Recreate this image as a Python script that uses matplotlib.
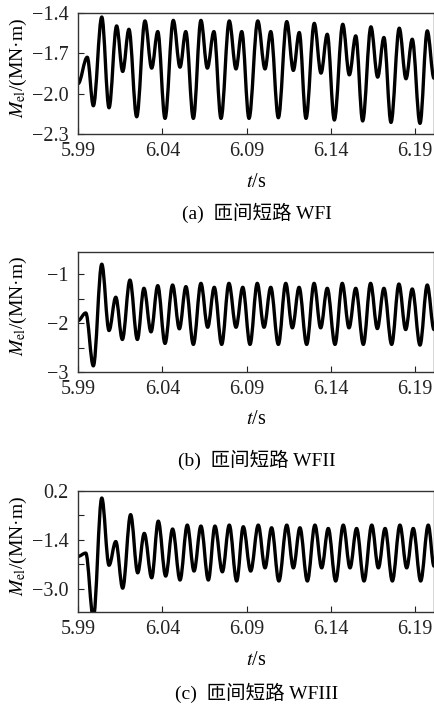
import numpy as np
import matplotlib
matplotlib.use('Agg')
import matplotlib.pyplot as plt
from matplotlib.path import Path
from matplotlib.patches import PathPatch

plt.rcParams['font.family'] = ['Liberation Serif', 'Noto Sans CJK SC']
plt.rcParams['mathtext.fontset'] = 'stix'

# === data: turning points of M_el (t in s, value in MN*m) ===
t_a = [5.9900, 5.9955, 5.9991, 6.0041, 6.0084, 6.0129, 6.0165, 6.0202, 6.0248, 6.0297,
       6.0337, 6.0373, 6.0416, 6.0465, 6.0505, 6.0539, 6.0584, 6.0629, 6.0667, 6.0706,
       6.0748, 6.0797, 6.0837, 6.0871, 6.0914, 6.0966, 6.1009, 6.1043, 6.1088, 6.1138,
       6.1177, 6.1212, 6.1252, 6.1301, 6.1341, 6.1378, 6.1420, 6.1470, 6.1509, 6.1547,
       6.1588, 6.1637, 6.1677, 6.1714, 6.1756, 6.1805, 6.1845, 6.1882, 6.1928, 6.1971,
       6.2011]
m_a = [-1.926, -1.729, -2.090, -1.430, -2.105, -1.496, -1.835, -1.521, -2.172, -1.459,
       -1.810, -1.538, -2.184, -1.455, -1.803, -1.538, -2.184, -1.455, -1.810, -1.538,
       -2.184, -1.459, -1.816, -1.538, -2.184, -1.459, -1.816, -1.538, -2.179, -1.464,
       -1.827, -1.545, -2.184, -1.477, -1.847, -1.558, -2.196, -1.484, -1.860, -1.570,
       -2.203, -1.503, -1.877, -1.582, -2.214, -1.513, -1.889, -1.595, -2.221, -1.533,
       -1.885]

t_b = [5.9900, 5.9946, 5.9991, 6.0041, 6.0084, 6.0124, 6.0163, 6.0208, 6.0252, 6.0291,
       6.0333, 6.0373, 6.0416, 6.0461, 6.0501, 6.0540, 6.0584, 6.0629, 6.0669, 6.0708,
       6.0752, 6.0795, 6.0837, 6.0877, 6.0920, 6.0963, 6.1003, 6.1043, 6.1088, 6.1132,
       6.1171, 6.1211, 6.1256, 6.1300, 6.1339, 6.1378, 6.1424, 6.1467, 6.1507, 6.1547,
       6.1592, 6.1635, 6.1675, 6.1714, 6.1760, 6.1803, 6.1843, 6.1882, 6.1928, 6.1971,
       6.2011]
m_b = [-1.947, -1.790, -2.874, -0.790, -2.150, -1.467, -2.333, -1.116, -2.333, -1.284,
       -2.177, -1.230, -2.414, -1.217, -2.115, -1.250, -2.434, -1.183, -2.083, -1.264,
       -2.434, -1.183, -2.083, -1.264, -2.434, -1.183, -2.083, -1.264, -2.434, -1.183,
       -2.095, -1.264, -2.434, -1.183, -2.095, -1.284, -2.434, -1.183, -2.095, -1.284,
       -2.434, -1.183, -2.110, -1.284, -2.434, -1.197, -2.130, -1.298, -2.448, -1.217,
       -2.130]

t_c = [5.9900, 5.9946, 5.9991, 6.0041, 6.0084, 6.0124, 6.0165, 6.0212, 6.0254, 6.0293,
       6.0337, 6.0376, 6.0420, 6.0461, 6.0505, 6.0548, 6.0588, 6.0629, 6.0673, 6.0712,
       6.0756, 6.0797, 6.0841, 6.0880, 6.0924, 6.0969, 6.1009, 6.1048, 6.1091, 6.1138,
       6.1177, 6.1216, 6.1260, 6.1305, 6.1345, 6.1384, 6.1428, 6.1473, 6.1513, 6.1552,
       6.1596, 6.1642, 6.1681, 6.1721, 6.1764, 6.1809, 6.1849, 6.1888, 6.1932, 6.1977,
       6.2011]
m_c = [-1.940, -1.832, -3.950, -0.030, -2.230, -1.455, -2.980, -0.574, -2.477, -1.187,
       -2.640, -0.787, -2.584, -1.045, -2.713, -0.916, -2.420, -0.948, -2.713, -0.948,
       -2.445, -0.916, -2.745, -0.970, -2.420, -0.916, -2.316, -1.003, -2.745, -0.916,
       -2.316, -1.003, -2.745, -0.916, -2.316, -1.026, -2.745, -0.916, -2.316, -1.026,
       -2.745, -0.916, -2.316, -1.026, -2.745, -0.916, -2.316, -1.026, -2.745, -0.916,
       -2.260]

x_ticks = [5.99, 6.04, 6.09, 6.14, 6.19]
x_ticklabels = ['5.99', '6.04', '6.09', '6.14', '6.19']

y_ticks_a = [-2.3, -2.0, -1.7, -1.4]
y_labels_a = ['\u22122.3', '\u22122.0', '\u22121.7', '\u22121.4']
y_ticks_b = [-3.0, -2.5, -2.0, -1.5, -1.0]
y_labels_b = ['\u22123', '', '\u22122', '', '\u22121']
y_ticks_c = [-3.0, -2.2, -1.4, -0.6, 0.2]
y_labels_c = ['\u22123.0', '', '\u22121.4', '', '0.2']

captions = ['(a)  匝间短路 WFI', '(b)  匝间短路 WFII', '(c)  匝间短路 WFIII']


def smooth_path(t, v):
    # cubic bezier through the turning points, flat tangent at each one
    verts = [(t[0], v[0])]
    codes = [Path.MOVETO]
    for i in range(len(t) - 1):
        dt = t[i + 1] - t[i]
        verts += [(t[i] + 0.36 * dt, v[i]), (t[i + 1] - 0.36 * dt, v[i + 1]), (t[i + 1], v[i + 1])]
        codes += [Path.CURVE4] * 3
    return Path(verts, codes)


W, H = 435, 704
fig = plt.figure(figsize=(W / 100, H / 100), dpi=100)

# axes boxes in pixels: (top, bottom)
boxes = [(13, 134), (252, 372), (491, 612)]
left, right = 78, 434
ylims = [(-2.3, -1.4), (-3.0, -0.54), (-3.76, 0.2)]
series = [(t_a, m_a), (t_b, m_b), (t_c, m_c)]
yticks = [(y_ticks_a, y_labels_a), (y_ticks_b, y_labels_b), (y_ticks_c, y_labels_c)]
cap_y = [213, 460, 693]

for k in range(3):
    top, bot = boxes[k]
    ax = fig.add_axes([left / W, 1 - bot / H, (right - left) / W, (bot - top) / H])
    t, v = series[k]
    ax.add_patch(PathPatch(smooth_path(t, v), fill=False, edgecolor='black',
                           lw=2.4, capstyle='round', joinstyle='round'))
    ax.set_xlim(5.99, 6.2011)
    ax.set_ylim(*ylims[k])
    ax.set_xticks(x_ticks)
    ax.set_xticklabels(x_ticklabels)
    ax.set_yticks(yticks[k][0])
    ax.set_yticklabels(yticks[k][1])
    ax.tick_params(direction='in', length=4, width=0.8, labelsize=14.5, colors='#222222')
    ax.tick_params(axis='x', pad=6)
    ax.tick_params(axis='y', pad=7)
    for s in ax.spines.values():
        s.set_linewidth(1.0)
        s.set_color('#333333')
    ax.set_xlabel(r'$t$/s', fontsize=14.5)
    ax.xaxis.set_label_coords(0.5, -0.40)
    ax.xaxis.label.set_va('center')
    ax.set_ylabel(r'$M_{\mathrm{el}}$/(MN·m)', fontsize=14)
    ax.yaxis.set_label_coords(-0.168, 0.55)
    ax.yaxis.label.set_va('center')
    fig.text(257 / W, 1 - cap_y[k] / H, captions[k], ha='center', va='center', fontsize=14)

plt.savefig('out.png', dpi=100)
